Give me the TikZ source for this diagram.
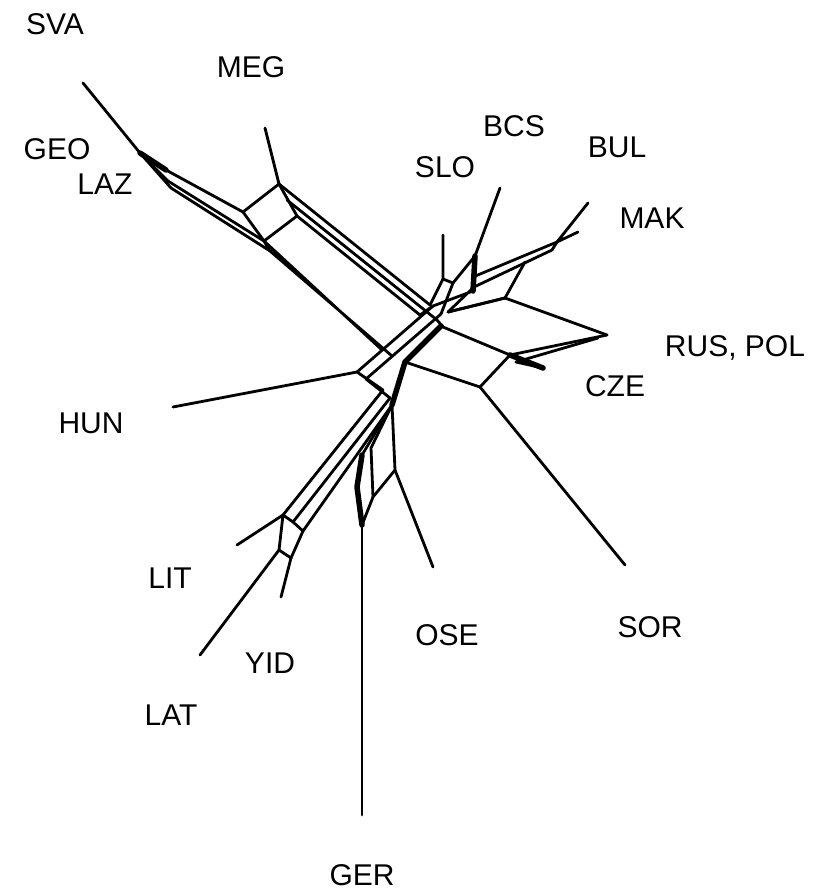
\documentclass[tikz,border=0pt]{standalone}
\usepackage{fontspec}
\setmainfont{Liberation Sans}
\begin{document}
\begin{tikzpicture}[x=1pt,y=-1pt,
  ln/.style={line width=2.8pt, line cap=round, line join=round},
  thk/.style={line width=5.5pt, line cap=round, line join=round},
  lab/.style={font=\fontsize{30}{30}\selectfont, anchor=base, inner sep=0pt}]
\useasboundingbox[fill=white] (0,0) rectangle (821,893);
% ---- leaves / tips
\coordinate (sva) at (83,83);
\coordinate (meg) at (265,128);
\coordinate (slo) at (443,235);
\coordinate (bcs) at (500,188);
\coordinate (bul) at (588,203);
\coordinate (mak) at (578,232);
\coordinate (R) at (607,335);
\coordinate (cz) at (543,368);
\coordinate (sor) at (625,565);
\coordinate (hun) at (173,407);
\coordinate (ose) at (433,567);
\coordinate (ger) at (362,815);
\coordinate (lit) at (237,545);
\coordinate (lat) at (200,655);
\coordinate (yid) at (281,597);
% ---- upper left
\coordinate (g0) at (140,153);
\coordinate (g1) at (166,170);
\coordinate (g2) at (168,181);
\coordinate (g3) at (171,188);
\coordinate (bl) at (243,212);
\coordinate (bt) at (279,184);
\coordinate (br) at (297,216);
\coordinate (bb) at (264,241);
\coordinate (bb2) at (270,251);
\coordinate (bm1) at (287,200);
\coordinate (m1) at (430,305);
\coordinate (m2) at (437,320);
\coordinate (m3) at (420,315);
% ---- centre to lower left
\coordinate (u1s) at (433,306);
\coordinate (u1e) at (357,372);
\coordinate (u2s) at (441,314);
\coordinate (u2e) at (366,379);
\coordinate (e1) at (382,350);
\coordinate (e2) at (392,356);
\coordinate (a1s) at (383,390);
\coordinate (a2s) at (390,398);
\coordinate (p1) at (283,515);
\coordinate (p2) at (293,522);
\coordinate (p3) at (303,531);
\coordinate (q1) at (279,550);
\coordinate (q2) at (291,558);
% ---- thick path and GER/OSE
\coordinate (c0) at (441,326);
\coordinate (t0) at (405,362);
\coordinate (t1) at (392,405);
\coordinate (t4) at (362,455);
\coordinate (t5) at (357,487);
\coordinate (g5) at (362,525);
\coordinate (t2) at (395,470);
\coordinate (t3) at (373,497);
\coordinate (t6) at (371,448);
% ---- right side
\coordinate (B) at (505,298);
\coordinate (D) at (510,355);
\coordinate (D2) at (516,362);
\coordinate (R2) at (598,338);
\coordinate (S) at (480,387);
\coordinate (c1) at (448,312);
\coordinate (c2) at (443,327);
% ---- upper right
\coordinate (bm) at (557,242);
\coordinate (bm2) at (552,250);
\coordinate (k1) at (473,277);
\coordinate (k2) at (474,287);
\coordinate (kx) at (525,262);
\coordinate (k3) at (475,256);
\coordinate (k4) at (473,291);
\coordinate (k5) at (443,279);
\coordinate (k6) at (453,283);

% upper left arms
\draw[ln] (sva) -- (g0);
\draw[thk] (g0) -- (g1);
\draw[ln] (g0) -- (g2) (g0) -- (g3);
\draw[ln] (g1) -- (bl) (g2) -- (bb) (g3) -- (bb2) (bb) -- (bb2);
\draw[ln] (bl) -- (bt) -- (br) -- (bb) -- cycle;
\draw[ln] (meg) -- (bt);
\draw[ln] (bt) -- (m1) (bm1) -- (m2) (br) -- (m3);
\draw[ln] (bb) -- (e1) (bb2) -- (e2);
% centre to lower left
\draw[ln] (u1s) -- (u1e) (u2s) -- (u2e);
\draw[ln] (hun) -- (u1e);
\draw[ln] (u1e) -- (a1s) (u2e) -- (a2s);
\draw[ln] (a1s) -- (p1) (a2s) -- (p2) (t1) -- (p3);
\draw[ln] (p1) -- (p2) -- (p3);
\draw[ln] (lit) -- (p1) (p1) -- (q1) (p3) -- (q2) (q1) -- (q2);
\draw[ln] (lat) -- (q1) (yid) -- (q2);
% thick spine to GER
\draw[thk] (c0) -- (t0) -- (t1);
\draw[ln] (t1) -- (t4);
\draw[thk] (t4) -- (t5) -- (g5);
\draw[ln] (g5) -- (ger);
\draw[ln] (t1) -- (t2) -- (ose);
\draw[ln] (t2) -- (t3) -- (g5);
\draw[ln] (t1) -- (t6) -- (t3);
% right side
\draw[ln] (c1) -- (B) -- (R);
\draw[ln] (c2) -- (D) -- (R);
\draw[ln] (D2) -- (R2);
\draw[ln] (t0) -- (S) -- (D);
\draw[thk] (D) -- (cz);
\draw[ln] (D2) -- (cz);
\draw[ln] (S) -- (sor);
% upper right
\draw[ln] (bul) -- (bm) (mak) -- (bm);
\draw[ln] (bm) -- (bm2);
\draw[ln] (bm) -- (k1) (bm2) -- (k2);
\draw[ln] (kx) -- (B);
\draw[ln] (B) -- (c1);
\draw[ln] (bcs) -- (k3);
\draw[thk] (k3) -- (k4);
\draw[ln] (k4) -- (u1s) (k2) -- (c1);
\draw[ln] (slo) -- (k5) -- (m1);
\draw[ln] (k5) -- (k6) -- (u2s);
\draw[ln] (k3) -- (k6);
\draw[ln] (m2) -- (c2) (m3) -- (u1s);
% labels
\node[lab] (lSVA) at (55,35) {SVA};
\node[lab] (lMEG) at (251,78) {MEG};
\node[lab] (lGEO) at (57,160) {GEO};
\node[lab] (lLAZ) at (105,195) {LAZ};
\node[lab] (lBCS) at (514,137) {BCS};
\node[lab] (lSLO) at (445,178) {SLO};
\node[lab] (lBUL) at (617,158) {BUL};
\node[lab] (lMAK) at (652,229) {MAK};
\node[lab] (lRUS) at (735,356) {RUS, POL};
\node[lab] (lCZE) at (615,396) {CZE};
\node[lab] (lHUN) at (91,433) {HUN};
\node[lab] (lLIT) at (170,588) {LIT};
\node[lab] (lOSE) at (447,645) {OSE};
\node[lab] (lSOR) at (650,637) {SOR};
\node[lab] (lYID) at (270,673) {YID};
\node[lab] (lLAT) at (171,725) {LAT};
\node[lab] (lGER) at (362,885) {GER};
\end{tikzpicture}
\end{document}
